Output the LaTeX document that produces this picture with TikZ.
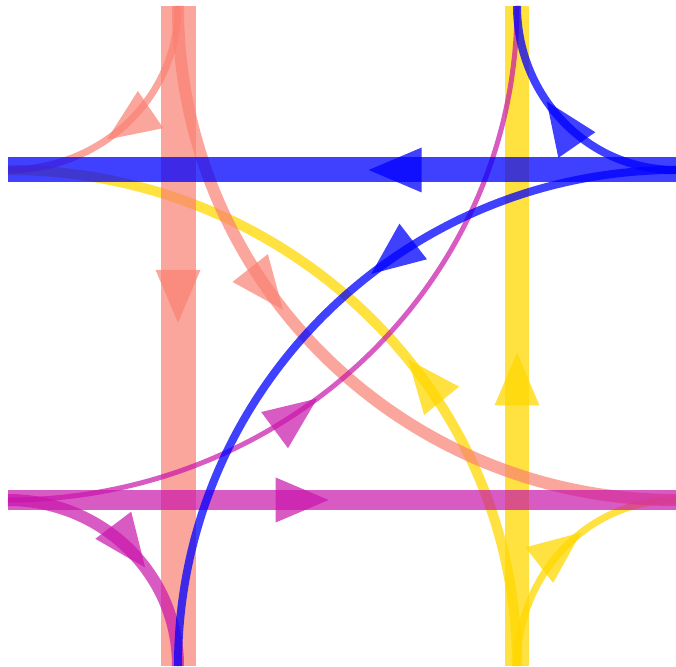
\documentclass[tikz,border=0pt]{standalone}
\usepackage{xcolor}
\usepackage{tikz}
\usetikzlibrary{arrows.meta, decorations.markings}

\definecolor{salmonc}{RGB}{250,128,114}
\definecolor{goldc}{RGB}{255,215,0}
\definecolor{bluec}{RGB}{0,0,255}
\definecolor{magentac}{RGB}{200,20,170}

\begin{document}
\begin{tikzpicture}[
    x=1pt, y=1pt,
    salmonpath/.style={draw=salmonc, opacity=0.7},
    goldpath/.style={draw=goldc, opacity=0.75},
    bluepath/.style={draw=bluec, opacity=0.75},
    magentapath/.style={draw=magentac, opacity=0.7},
    tipat/.style={postaction={decorate, decoration={markings,
        mark=at position #1 with {\arrow{Triangle[length=53pt, width=45pt, line width=0pt]}}}}}
]
\useasboundingbox (0,0) rectangle (676,666);

% ends of the four strands
\coordinate (saltop) at (178,660);
\coordinate (salbot) at (178,0);
\coordinate (goldtop) at (517,660);
\coordinate (goldbot) at (517,0);
\coordinate (blueleft) at (8,496);
\coordinate (blueright) at (676,496);
\coordinate (magleft) at (8,166);
\coordinate (magright) at (676,166);

% gold
\draw[goldpath, line width=24pt, tipat=0.475] (goldbot) -- (goldtop);
\draw[goldpath, line width=10pt, tipat=0.42] (goldbot) to[out=90, in=0] (blueleft);
\draw[goldpath, line width=7pt, tipat=0.6] (goldbot) to[out=90, in=180] (magright);

% salmon
\draw[salmonpath, line width=35pt, tipat=0.48] (saltop) -- (salbot);
\draw[salmonpath, line width=7pt, tipat=0.6] (saltop) to[out=-90, in=0] (blueleft);
\draw[salmonpath, line width=12pt, tipat=0.42] (saltop) to[out=-90, in=180] (magright);

% magenta
\draw[magentapath, line width=20pt, tipat=0.48] (magleft) -- (magright);
\draw[magentapath, line width=12pt, tipat=0.6] (magleft) to[out=0, in=90] (salbot);
\draw[magentapath, line width=5pt, tipat=0.42] (magleft) to[out=0, in=-90] (goldtop);

% blue
\draw[bluepath, line width=25pt, tipat=0.46] (blueright) -- (blueleft);
\draw[bluepath, line width=8pt, tipat=0.6] (blueright) to[out=180, in=-90] (goldtop);
\draw[bluepath, line width=8pt, tipat=0.42] (blueright) to[out=180, in=90] (salbot);
\end{tikzpicture}
\end{document}
